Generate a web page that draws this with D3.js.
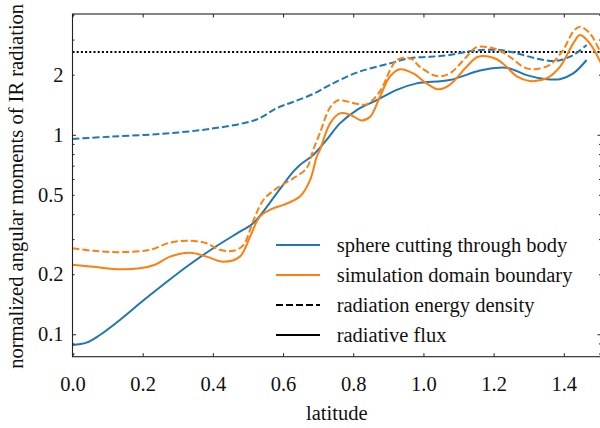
<!DOCTYPE html>
<html><head><meta charset="utf-8">
<script src="https://cdn.jsdelivr.net/npm/d3@7"></script>
<style>
html,body{margin:0;padding:0;background:#fff;}
svg{display:block;font-family:"Liberation Serif","Times New Roman",serif;}
</style></head>
<body><svg id="c" width="600" height="428"></svg>
<script>
// ---- data ----
const sphereFluxLat = [0, 0.040, 0.078, 0.135, 0.192, 0.249, 0.325, 0.401, 0.477, 0.515, 0.582, 0.629, 0.648, 0.686, 0.724, 0.762, 0.810, 0.867, 0.924, 0.981, 1.075, 1.161, 1.218, 1.246, 1.294, 1.351, 1.389, 1.427, 1.465];
const sphereFlux    = [0.0884, 0.0908, 0.0992, 0.118, 0.143, 0.172, 0.218, 0.270, 0.327, 0.360, 0.509, 0.653, 0.706, 0.792, 0.942, 1.14, 1.33, 1.49, 1.68, 1.81, 1.88, 2.10, 2.17, 2.15, 1.99, 1.90, 1.90, 2.03, 2.37];

const sphereEnergyLat = [0, 0.107, 0.249, 0.392, 0.523, 0.582, 0.628, 0.685, 0.734, 0.810, 0.905, 0.962, 1.019, 1.075, 1.142, 1.218, 1.266, 1.332, 1.380, 1.427, 1.465];
const sphereEnergy    = [0.953, 0.978, 1.01, 1.07, 1.19, 1.36, 1.46, 1.60, 1.78, 2.05, 2.28, 2.42, 2.46, 2.51, 2.64, 2.66, 2.56, 2.39, 2.35, 2.51, 2.82];

const domainFluxLat = [0, 0.059, 0.126, 0.192, 0.235, 0.278, 0.335, 0.382, 0.430, 0.477, 0.506, 0.534, 0.572, 0.601, 0.648, 0.677, 0.696, 0.705, 0.734, 0.762, 0.791, 0.824, 0.848, 0.876, 0.905, 0.933, 0.971, 1.009, 1.042, 1.075, 1.123, 1.156, 1.209, 1.237, 1.266, 1.303, 1.351, 1.389, 1.427, 1.446, 1.474, 1.506];
const domainFlux    = [0.223, 0.218, 0.212, 0.214, 0.223, 0.245, 0.256, 0.245, 0.231, 0.245, 0.308, 0.389, 0.428, 0.445, 0.490, 0.593, 0.777, 0.839, 1.14, 1.28, 1.26, 1.18, 1.23, 1.55, 1.96, 2.13, 2.03, 1.81, 1.69, 1.78, 2.19, 2.46, 2.39, 2.19, 1.96, 1.86, 1.92, 2.19, 2.87, 3.16, 2.87, 2.28];

const domainEnergyLat = [0, 0.059, 0.135, 0.221, 0.278, 0.335, 0.382, 0.420, 0.458, 0.487, 0.515, 0.544, 0.582, 0.629, 0.667, 0.686, 0.705, 0.734, 0.757, 0.781, 0.810, 0.838, 0.876, 0.905, 0.924, 0.962, 0.990, 1.038, 1.075, 1.123, 1.152, 1.209, 1.246, 1.284, 1.313, 1.360, 1.398, 1.427, 1.446, 1.474, 1.506];
const domainEnergy    = [0.270, 0.262, 0.258, 0.265, 0.288, 0.294, 0.286, 0.265, 0.262, 0.280, 0.370, 0.471, 0.539, 0.605, 0.679, 0.839, 1.02, 1.37, 1.49, 1.47, 1.43, 1.42, 1.65, 2.11, 2.37, 2.42, 2.19, 1.97, 2.03, 2.46, 2.75, 2.68, 2.46, 2.19, 2.13, 2.24, 2.66, 3.29, 3.48, 3.23, 2.55];

const referenceLevel = 2.6;
const xTicks = [0.0, 0.2, 0.4, 0.6, 0.8, 1.0, 1.2, 1.4];
const yTickLabels = [0.1, 0.2, 0.5, 1, 2];
const yMinorTicks = [0.08, 0.09, 0.2, 0.3, 0.4, 0.5, 0.6, 0.7, 0.8, 0.9, 2, 3, 4];
const yMajorTicks = [0.1, 1];
const xDomain = [0, 1.506];
const yDomain = [0.0772, 4.03];
const legendLabels = ["sphere cutting through body", "simulation domain boundary", "radiation energy density", "radiative flux"];

// ---- layout ----
const svg = d3.select("#c");
const L = 72.5, R = 601, T = 14, B = 356.7;
const x = d3.scaleLinear().domain(xDomain).range([L, R]);
const y = d3.scaleLog().domain(yDomain).range([B, T]);
const blue = "#1f77b4", orange = "#ff7f0e";
const fs = "20.5px";

svg.append("defs").append("clipPath").attr("id","clip")
  .append("rect").attr("x",L).attr("y",T).attr("width",R-L).attr("height",B-T);

const plot = svg.append("g").attr("clip-path","url(#clip)");

// reference dotted line
plot.append("line").attr("x1",L).attr("x2",R)
  .attr("y1",y(referenceLevel)).attr("y2",y(referenceLevel))
  .attr("stroke","#000").attr("stroke-width",2).attr("stroke-dasharray","2,2.2");

const line = d3.line().x(d=>x(d[0])).y(d=>y(d[1])).curve(d3.curveCatmullRom.alpha(0.5));
function series(lat, val, color, dashed){
  plot.append("path").datum(lat.map((l,i)=>[l,val[i]]))
    .attr("d",line).attr("fill","none").attr("stroke",color)
    .attr("stroke-width",2).attr("stroke-dasharray", dashed ? "7,3" : null);
}
series(sphereEnergyLat, sphereEnergy, blue, true);
series(sphereFluxLat, sphereFlux, blue, false);
series(domainEnergyLat, domainEnergy, orange, true);
series(domainFluxLat, domainFlux, orange, false);

// axes (ticks inward on all sides)
const axG = svg.append("g");
const spine = "#222";
const xb = axG.append("g").attr("transform",`translate(0,${B})`)
  .call(d3.axisBottom(x).tickValues(xTicks).tickSizeInner(-3.5).tickSizeOuter(0).tickFormat(d3.format(".1f")));
axG.append("g").attr("transform",`translate(0,${T})`)
  .call(d3.axisTop(x).tickValues(xTicks).tickSizeInner(-3.5).tickSizeOuter(0).tickFormat(""));
const fmtY = d => (d>=1 ? d3.format("d")(d) : d3.format(".1f")(d));
axG.append("g").attr("transform",`translate(${L},0)`)
  .call(d3.axisLeft(y).tickValues(yMajorTicks).tickSizeInner(-3.5).tickSizeOuter(0).tickFormat(""));
axG.append("g").attr("transform",`translate(${L},0)`)
  .call(d3.axisLeft(y).tickValues(yMinorTicks).tickSizeInner(-2).tickSizeOuter(0).tickFormat(""));
axG.append("g").attr("transform",`translate(${R},0)`)
  .call(d3.axisRight(y).tickValues(yMajorTicks).tickSizeInner(-3.5).tickSizeOuter(0).tickFormat(""));
axG.append("g").attr("transform",`translate(${R},0)`)
  .call(d3.axisRight(y).tickValues(yMinorTicks).tickSizeInner(-2).tickSizeOuter(0).tickFormat(""));
axG.selectAll(".domain").remove();
axG.selectAll(".tick line").attr("stroke",spine).attr("stroke-width",1);

xb.selectAll(".tick text").attr("font-size",fs).attr("fill","#111")
  .attr("font-family",'"Liberation Serif", serif').attr("y",null).attr("dy",null)
  .attr("transform","translate(0,34.5)");

// y labels
svg.append("g").selectAll("text").data(yTickLabels).join("text")
  .attr("x",63.5).attr("y",d=>y(d)+6.8).attr("text-anchor","end")
  .attr("font-size",fs).attr("fill","#111").text(fmtY);

// frame
svg.append("rect").attr("x",L).attr("y",T).attr("width",R-L).attr("height",B-T)
  .attr("fill","none").attr("stroke",spine).attr("stroke-width",1.1);

// axis titles
svg.append("text").attr("x",(L+R)/2).attr("y",420).attr("text-anchor","middle")
  .attr("font-size",fs).attr("fill","#111").text("latitude");
svg.append("text").attr("transform",`translate(23,${(T+B)/2 + 1}) rotate(-90)`)
  .attr("text-anchor","middle").attr("font-size",fs).attr("fill","#111")
  .text("normalized angular moments of IR radiation");

// legend
const legendColors = [blue, orange, "#000", "#000"];
const legendDash = [null, null, "7,3", null];
const lg = svg.append("g");
legendLabels.forEach((t,i)=>{
  const yy = 245 + i*30;
  lg.append("line").attr("x1",276).attr("x2",320).attr("y1",yy).attr("y2",yy)
    .attr("stroke",legendColors[i]).attr("stroke-width",2).attr("stroke-dasharray",legendDash[i]);
  lg.append("text").attr("x",336.7).attr("y",yy+7).attr("font-size",fs).attr("fill","#111").text(t);
});
</script></body></html>
